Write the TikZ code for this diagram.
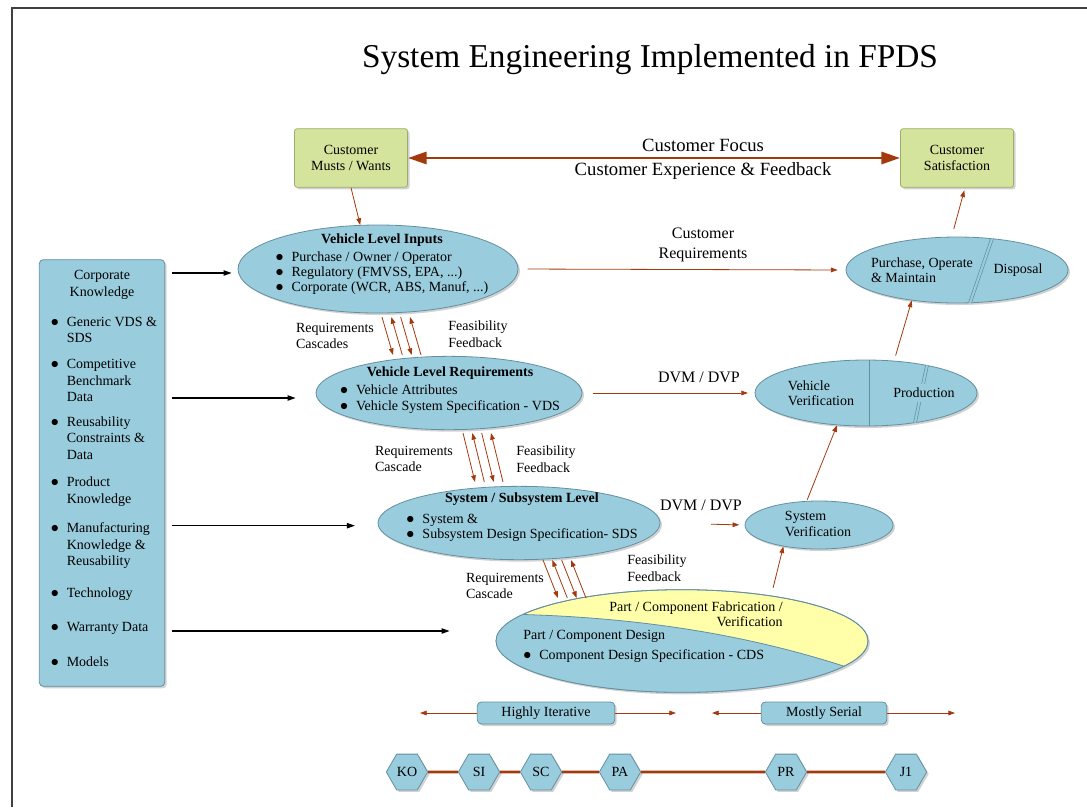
\documentclass[tikz,border=0pt]{standalone}
\usepackage{fontspec}
\setmainfont{Liberation Serif}
\usetikzlibrary{arrows.meta,shapes.geometric,shadows}
\definecolor{lblue}{HTML}{99CCDD}
\definecolor{bedge}{HTML}{6390A0}
\definecolor{lgreen}{HTML}{D4E49C}
\definecolor{gedge}{HTML}{9CAE6C}
\definecolor{lyellow}{HTML}{FFFFAA}
\definecolor{rust}{HTML}{A33A0E}
\newcommand{\sz}{\fontsize{10.5}{11.5}\selectfont}
\newcommand{\bul}{{\fontsize{12}{12}\selectfont$\bullet$}}
\newcommand{\blist}[1]{\begin{tabular}[t]{@{}l@{\hspace{6pt}}l@{}}#1\end{tabular}}
\begin{document}
\begin{tikzpicture}[x=0.75pt, y=-0.75pt, >={Triangle[length=5pt,width=3.5pt]},
    every node/.style={inner sep=0pt, font=\sz},
    dshadow/.style={drop shadow={shadow xshift=1.5pt, shadow yshift=-1.5pt, fill=black!35}},
    ell/.style={ellipse, draw=bedge, fill=lblue, line width=0.6pt, dshadow},
    gbox/.style={rectangle, rounded corners=2pt, draw=gedge, fill=lgreen, line width=0.6pt, minimum width=84.75pt, minimum height=44pt, align=center, dshadow},
    bbox/.style={rectangle, rounded corners=3pt, draw=bedge, fill=lblue, line width=0.6pt, dshadow},
    hexa/.style={regular polygon, regular polygon sides=6, minimum size=31pt, draw=bedge, fill=lblue, line width=0.6pt, dshadow},
    flow/.style={draw=rust, line width=0.6pt, ->},
    karrow/.style={draw=black, line width=0.9pt, -{Triangle[length=6pt,width=4pt]}},
    casc/.style={draw=rust, line width=0.6pt},
    lbl/.style={align=left, font=\fontsize{10.5}{12.5}\selectfont},
    midtxt/.style={font=\fontsize{12}{15}\selectfont},
    bigtxt/.style={font=\fontsize{14}{16}\selectfont},
    ktxt/.style={anchor=base west, font=\fontsize{10.5}{12.4}\selectfont}]
    \useasboundingbox (0,0) rectangle (1087,807);
    \draw[black!75, line width=1.5pt] (12,807) -- (12,8) -- (1087,8);
    \node[font=\fontsize{25}{30}\selectfont] (title) at (650,60) {System Engineering Implemented in FPDS};

    \node[gbox] (cmw) at (351,158) {Customer\\Musts / Wants};
    \node[gbox] (cs) at (957,158) {Customer\\Satisfaction};
    \draw[rust, line width=2.2pt, {Triangle[length=14pt,width=9pt]}-{Triangle[length=14pt,width=9pt]}] (cmw) -- (cs);
    \node[bigtxt] (focus) at (703,145) {Customer Focus};
    \node[bigtxt] (exper) at (703,171) {Customer Experience \& Feedback};

    \node[bbox, minimum width=94pt, minimum height=320pt] (corp) at (102,473) {};
    \node[align=center, font=\fontsize{10.5}{12.4}\selectfont] (corptitle) at (102,285) {Corporate\\Knowledge};
    \node[ktxt] (k1) at (50.5,326) {\blist{\bul & Generic VDS \&\\ & SDS}};
    \node[ktxt] (k2) at (50.5,368.5) {\blist{\bul & Competitive\\ & Benchmark\\ & Data}};
    \node[ktxt] (k3) at (50.5,426) {\blist{\bul & Reusability\\ & Constraints \&\\ & Data}};
    \node[ktxt] (k4) at (50.5,486.5) {\blist{\bul & Product\\ & Knowledge}};
    \node[ktxt] (k5) at (50.5,532.5) {\blist{\bul & Manufacturing\\ & Knowledge \&\\ & Reusability}};
    \node[ktxt] (k6) at (50.5,597.5) {\blist{\bul & Technology}};
    \node[ktxt] (k7) at (50.5,631.5) {\blist{\bul & Warranty Data}};
    \node[ktxt] (k8) at (50.5,666.5) {\blist{\bul & Models}};

    \node[ell, minimum width=210pt, minimum height=66pt] (vli) at (378,269) {};
    \node[ell, minimum width=199.5pt, minimum height=55pt] (vlr) at (449,393) {};
    \node[ell, minimum width=211.5pt, minimum height=55pt] (ssl) at (519,523) {};
    \node[ell, fill=lyellow, minimum width=279pt, minimum height=77pt] (part) at (682,641) {};
    \node[ell, minimum width=166.5pt, minimum height=49.5pt] (pom) at (957,270) {};
    \node[ell, minimum width=166.5pt, minimum height=49.5pt] (vver) at (866,393) {};
    \node[ell, minimum width=111pt, minimum height=36pt] (sysver) at (819,525) {};

    \begin{scope}
        \clip (part.center) ellipse (186 and 51.33);
        \fill[lblue] (500,614) .. controls (640,616) and (760,636) .. (870,675) -- (870,700) -- (490,700) -- cycle;
        \draw[bedge, line width=0.6pt] (500,614) .. controls (640,616) and (760,636) .. (870,675);
    \end{scope}
    \draw[bedge, line width=0.6pt] (part.center) ellipse (186 and 51.33);

    \draw[bedge, line width=0.5pt, double=lblue, double distance=1.6pt] (992,238.7) -- (970,302.8);
    \draw[bedge, line width=0.6pt] (869,360) -- (869,426);
    \draw[bedge, line width=0.5pt, double=lblue, double distance=1.6pt] (927,365.4) -- (915,422.6);

    \node[align=center] (vlitxt) at (382,265) {\textbf{Vehicle Level Inputs}\\[2pt]\blist{\bul & Purchase / Owner / Operator\\ \bul & Regulatory (FMVSS, EPA, ...)\\ \bul & Corporate (WCR, ABS, Manuf, ...)}};
    \node[align=center] (vlrtxt) at (450,391) {\textbf{Vehicle Level Requirements}\\[2pt]\blist{\bul & Vehicle Attributes\\ \bul & Vehicle System Specification - VDS}};
    \node[align=center] (ssltxt) at (522,518) {\textbf{System / Subsystem Level}\\[4pt]\blist{\bul & System \&\\ \bul & Subsystem Design Specification- SDS}};
    \node[align=right] (fabtxt) at (696,614) {Part / Component Fabrication /\\Verification};
    \node[align=left, anchor=west] (designtxt) at (523,647) {Part / Component Design\\[3pt]\blist{\bul & Component Design Specification - CDS}};
    \node[align=left] (pomtxt) at (922,270) {Purchase, Operate\\\& Maintain};
    \node (disptxt) at (1018,270) {Disposal};
    \node[align=left] (vvertxt) at (821,393) {Vehicle\\Verification};
    \node[fill=lblue, inner ysep=3pt, inner xsep=1pt] (prodtxt) at (924,393) {Production};
    \node[align=left] (sysvertxt) at (818,524) {System\\Verification};

    \node[midtxt, align=center] (custreq) at (703,245) {Customer\\Requirements};
    \node[midtxt] (dvm1) at (699,377) {DVM / DVP};
    \node[midtxt] (dvm2) at (701,505) {DVM / DVP};
    \node[lbl] (rc1) at (335,336) {Requirements\\Cascades};
    \node[lbl] (ff1) at (478,334) {Feasibility\\Feedback};
    \node[lbl] (rc2) at (414,459) {Requirements\\Cascade};
    \node[lbl] (ff2) at (546,459) {Feasibility\\Feedback};
    \node[lbl] (rc3) at (505,586) {Requirements\\Cascade};
    \node[lbl] (ff3) at (657,568) {Feasibility\\Feedback};

    \coordinate (ca1) at (382,317); \coordinate (cb1) at (393,355);
    \coordinate (ca2) at (463,433); \coordinate (cb2) at (475,482);
    \coordinate (ca3) at (543,560); \coordinate (cb3) at (558,598);
    \foreach \n in {1,2,3}
        \foreach \s/\d in {0pt/->,7pt/<-,14pt/->,21pt/<-}
            \draw[casc,\d] ([xshift=\s]ca\n) -- ([xshift=\s]cb\n);

    \draw[flow] (cmw.south) -- (vli.112);
    \draw[flow, shorten <=7pt, shorten >=6pt] (vli.east) -- (pom.west);
    \draw[flow, shorten <=8pt, shorten >=5pt] (vlr.east) -- (vver.west);
    \draw[flow, shorten <=38pt, shorten >=4pt] (ssl.east) -- (sysver.west);
    \draw[flow, shorten <=6pt] (part.27) -- (sysver.211);
    \draw[flow, shorten <=1pt] (sysver.117) -- (vver.228);
    \draw[flow, shorten <=4pt] (vver.49) -- (pom.214);
    \draw[flow, shorten <=6pt, shorten >=2pt] (pom.99) -- (cs.-75);

    \coordinate (kin1) at ([yshift=-3pt]vli.west);
    \coordinate (kin2) at ([yshift=-3.75pt]vlr.west);
    \coordinate (kin3) at ([yshift=-2pt]ssl.west);
    \coordinate (kin4) at ([yshift=7.5pt]part.west);
    \draw[karrow, shorten <=5pt, shorten >=4.5pt] (corp.east |- kin1) -- (kin1);
    \draw[karrow, shorten <=5pt, shorten >=15pt] (corp.east |- kin2) -- (kin2);
    \draw[karrow, shorten <=5pt, shorten >=17pt] (corp.east |- kin3) -- (kin3);
    \draw[karrow, shorten <=5pt, shorten >=34.5pt] (corp.east |- kin4) -- (kin4);

    \node[bbox, minimum width=103pt, minimum height=16.5pt] (iter) at (546,713) {Highly Iterative};
    \node[bbox, minimum width=94pt, minimum height=16.5pt] (serial) at (824,713) {Mostly Serial};
    \coordinate (iterl) at (420,713); \coordinate (iterr) at (676,713);
    \coordinate (seriall) at (712,713); \coordinate (serialr) at (955,713);
    \draw[flow] (iter) -- (iterl);
    \draw[flow] (iter) -- (iterr);
    \draw[flow] (serial) -- (seriall);
    \draw[flow] (serial) -- (serialr);

    \node[hexa] (ko) at (407,772) {KO};
    \node[hexa] (si) at (479,772) {SI};
    \node[hexa] (sc) at (541,772) {SC};
    \node[hexa] (pa) at (620,772) {PA};
    \node[hexa] (pr) at (786,772) {PR};
    \node[hexa] (j1) at (906,772) {J1};
    \draw[rust, line width=2.2pt] (ko) -- (si) -- (sc) -- (pa) -- (pr) -- (j1);
\end{tikzpicture}
\end{document}
